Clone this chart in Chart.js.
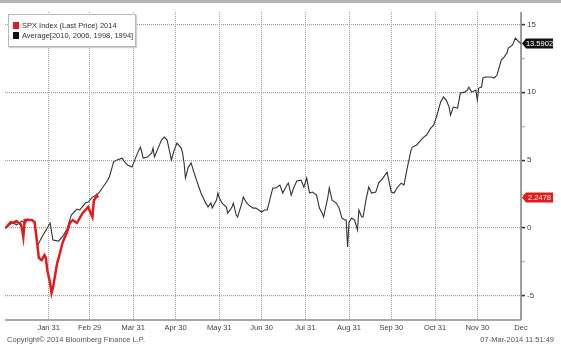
<!DOCTYPE html>
<html lang="en">
<head>
    <meta charset="UTF-8">
    <title>SPX 2014 vs Average</title>
    <script src="https://cdn.jsdelivr.net/npm/chart.js"></script>
    <style>
        body { margin: 0; background: #fff; font-family: "Liberation Sans", Arial, sans-serif; }
        #wrap { position: relative; width: 561px; height: 351px; overflow: hidden; }
        #topbar { position: absolute; left: 0; top: 0; width: 561px; height: 3px; background: #b4b4b4; }
        #legend {
            position: absolute; left: 8px; top: 14px; width: 126px; height: 31px;
            border: 1px solid #b8b8b8; background: #fff; box-shadow: 1px 1px 1px #d0d0d0;
            font-size: 7.5px; color: #333; line-height: 10px;
        }
        #legend div { position: absolute; left: 4px; white-space: nowrap; }
        #legend span { display: inline-block; width: 6px; height: 7px; margin-right: 3px; vertical-align: -1px; }
        .foot { position: absolute; top: 335px; font-size: 7.5px; color: #555; white-space: nowrap; }
    </style>
</head>
<body>
<div id="wrap">
    <canvas id="chart" width="561" height="351"></canvas>
    <div id="topbar"></div>
    <div id="legend">
        <div style="top:6px"><span style="background:#e41b1b"></span>SPX Index (Last Price) 2014</div>
        <div style="top:16px"><span style="background:#111"></span>Average[2010, 2006, 1998, 1994]</div>
    </div>
    <div class="foot" style="left:7px">Copyright© 2014 Bloomberg Finance L.P.</div>
    <div class="foot" style="right:7px">07-Mar-2014 11:51:49</div>
</div>
<script>
    // day of year (0 = Jan 1) and % change
    const avgDays = [0, 2, 6, 8, 12, 14, 16, 19, 21, 23, 26, 30, 32, 34, 38, 41, 44, 47, 51, 53, 57, 59, 62, 65, 67, 69, 72, 74, 76, 77, 79, 83, 85, 87, 90, 92, 94, 96, 97, 98, 101, 104, 105, 106, 108, 111, 113, 115, 117, 118, 120, 122, 125, 126, 127, 128, 130, 132, 134, 137, 139, 142, 144, 146, 147, 150, 151, 152, 154, 157, 158, 161, 162, 164, 165, 168, 169, 171, 173, 176, 178, 180, 182, 184, 186, 189, 190, 192, 195, 197, 200, 201, 203, 205, 207, 210, 212, 214, 216, 218, 221, 223, 225, 226, 229, 230, 232, 235, 237, 239, 241, 242, 243, 244, 246, 248, 250, 251, 253, 254, 256, 258, 260, 263, 265, 268, 271, 274, 276, 278, 281, 283, 285, 288, 289, 292, 295, 297, 299, 302, 304, 306, 309, 311, 313, 315, 316, 318, 321, 323, 326, 328, 329, 331, 334, 335, 336, 338, 339, 341, 345, 347, 349, 352, 354, 356, 357, 360, 362, 364, 366];
    const avgValues = [0, 0.15, 0.44, 0.22, 0.52, 0.29, 0.66, 0.59, 0.44, -1.3, -0.7, 0, 0.37, -0.88, -0.96, -0.6, -0.07, 0.96, 1.4, 1.33, 1.84, 1.91, 2.28, 2.43, 2.65, 2.95, 3.39, 3.76, 4.49, 4.86, 5.0, 5.15, 4.86, 4.64, 4.49, 5.0, 5.52, 5.96, 5.6, 5.15, 5.23, 5.52, 5.89, 5.23, 5.74, 6.48, 6.7, 6.48, 5.52, 5.0, 5.74, 6.26, 5.89, 5.52, 4.79, 3.68, 4.49, 4.79, 4.12, 3.17, 2.58, 1.91, 1.55, 1.84, 1.47, 2.06, 2.58, 2.21, 1.84, 1.55, 1.1, 1.55, 1.84, 0.96, 0.81, 1.84, 2.28, 1.91, 1.69, 1.47, 1.47, 1.33, 1.18, 1.33, 1.33, 2.58, 2.95, 2.95, 3.17, 2.58, 3.17, 3.31, 2.43, 3.02, 3.46, 3.53, 3.02, 3.68, 2.58, 2.65, 2.43, 1.47, 1.1, 0.81, 2.28, 2.95, 2.06, 1.84, 1.47, 0.74, 0.59, 0.59, -1.4, 0.44, 0.74, 0.59, -0.15, 1.33, 0.81, 0.81, 2.06, 3.02, 2.58, 2.65, 3.31, 3.68, 4.12, 2.65, 2.58, 2.95, 3.31, 3.17, 4.27, 5.74, 5.96, 6.11, 6.48, 6.7, 6.85, 7.36, 7.58, 8.17, 9.28, 9.65, 9.43, 8.91, 8.32, 8.91, 8.84, 9.94, 10.01, 10.16, 10.38, 10.01, 10.16, 9.43, 10.31, 10.38, 11.05, 11.12, 11.12, 11.05, 11.27, 12.37, 12.59, 12.89, 13.25, 13.48, 13.99, 13.77, 13.5902];
    const spxDays = [0, 1, 4, 6, 8, 11, 12, 13, 14, 16, 19, 21, 23, 24, 26, 28, 29, 30, 32, 33, 34, 37, 39, 41, 44, 46, 48, 51, 53, 55, 59, 62, 63, 65, 66];
    const spxValues = [0, 0.07, 0.44, 0.37, 0.52, 0.29, 0, -0.66, 0.59, 0.59, 0.59, 0.44, -1.25, -2.2, -2.36, -2.0, -2.2, -3.1, -4.05, -4.79, -4.42, -2.58, -1.84, -1.03, -0.29, 0.37, 0.59, 0.37, 0.74, 1.1, 1.55, 0.81, 2.0, 2.4, 2.2478];
    const tickDays = [31, 60, 91, 121, 152, 182, 213, 244, 274, 305, 335, 366];
    const tickLabels = ['Jan 31', 'Feb 29', 'Mar 31', 'Apr 30', 'May 31', 'Jun 30', 'Jul 31', 'Aug 31', 'Sep 30', 'Oct 31', 'Nov 30', 'Dec'];
    const yTicks = [-5, -2.5, 0, 2.5, 5, 7.5, 10, 12.5, 15];

    const toPoints = (xs, ys) => xs.map((d, i) => ({ x: d, y: ys[i] }));
    const isMajor = v => v % 5 === 0;

    // solid axis lines + last value boxes on the right axis
    const bbgExtras = {
        id: 'bbgExtras',
        beforeDatasetsDraw(chart) {
            const c = chart.ctx, a = chart.chartArea;
            c.save();
            c.strokeStyle = '#8a8a8a';
            c.lineWidth = 1.6;
            c.beginPath();
            c.moveTo(a.left, a.bottom);
            c.lineTo(a.right, a.bottom);
            c.moveTo(a.right, a.top);
            c.lineTo(a.right, a.bottom);
            c.stroke();
            c.restore();
        },
        afterDraw(chart) {
            const c = chart.ctx;
            const ys = chart.scales.y;
            const boxes = [
                { v: avgValues[avgValues.length - 1], color: '#111' },
                { v: spxValues[spxValues.length - 1], color: '#e41b1b' }
            ];
            c.save();
            c.font = '7.5px "Liberation Sans", Arial, sans-serif';
            boxes.forEach(b => {
                const y = ys.getPixelForValue(b.v);
                const x0 = chart.chartArea.right + 1;
                const w = 31, h = 10;
                c.fillStyle = b.color;
                c.beginPath();
                c.moveTo(x0, y);
                c.lineTo(x0 + 4, y - h / 2);
                c.lineTo(x0 + w, y - h / 2);
                c.lineTo(x0 + w, y + h / 2);
                c.lineTo(x0 + 4, y + h / 2);
                c.closePath();
                c.fill();
                c.fillStyle = '#fff';
                c.textAlign = 'center';
                c.textBaseline = 'middle';
                c.fillText(b.v.toFixed(4), x0 + 4 + (w - 4) / 2, y + 0.5);
            });
            c.restore();
        }
    };

    new Chart(document.getElementById('chart').getContext('2d'), {
        type: 'line',
        data: {
            datasets: [
                {
                    label: 'SPX Index (Last Price) 2014',
                    data: toPoints(spxDays, spxValues),
                    borderColor: '#e41b1b',
                    borderWidth: 2.5,
                    pointRadius: 0,
                    tension: 0
                },
                {
                    label: 'Average[2010, 2006, 1998, 1994]',
                    data: toPoints(avgDays, avgValues),
                    borderColor: '#333',
                    borderWidth: 1.1,
                    pointRadius: 0,
                    tension: 0
                }
            ]
        },
        options: {
            responsive: false,
            animation: false,
            layout: { padding: { top: 12, left: 5, right: 0, bottom: 0 } },
            plugins: { legend: { display: false }, tooltip: { enabled: false } },
            scales: {
                x: {
                    type: 'linear',
                    min: 0,
                    max: 366,
                    afterBuildTicks: s => { s.ticks = tickDays.map(v => ({ value: v })); },
                    afterFit: s => { s.height = 31; },
                    ticks: {
                        autoSkip: false,
                        maxRotation: 0,
                        padding: 3,
                        color: '#444',
                        font: { family: 'Liberation Sans', size: 7.5 },
                        callback: v => tickLabels[tickDays.indexOf(v)]
                    },
                    grid: { color: '#a0a0a0', lineWidth: 1, drawTicks: false },
                    border: { display: false, dash: [1, 1] }
                },
                y: {
                    position: 'right',
                    min: -6.77,
                    max: 15.91,
                    afterBuildTicks: s => { s.ticks = yTicks.map(v => ({ value: v })); },
                    afterFit: s => { s.width = 40; },
                    ticks: {
                        padding: 2,
                        color: '#444',
                        font: { family: 'Liberation Sans', size: 8 },
                        callback: v => isMajor(v) ? String(v) : ''
                    },
                    grid: {
                        color: ctx => isMajor(ctx.tick.value) ? '#a0a0a0' : 'rgba(0,0,0,0)',
                        lineWidth: 1.2,
                        tickLength: 4,
                        tickColor: ctx => isMajor(ctx.tick.value) ? '#333' : '#bbb',
                        tickWidth: 1.5
                    },
                    border: { display: false, dash: [1, 1] }
                }
            }
        },
        plugins: [bbgExtras]
    });
</script>
</body>
</html>
